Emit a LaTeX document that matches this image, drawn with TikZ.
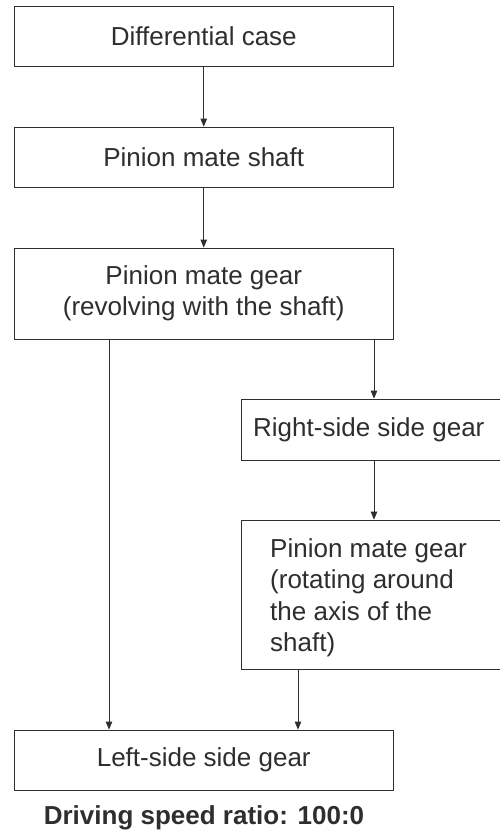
\documentclass[tikz,border=0pt]{standalone}
\usepackage{fontspec}
\setmainfont{Liberation Sans}
\usetikzlibrary{arrows.meta}
\definecolor{ink}{HTML}{2E2E2E}
\begin{document}
\begin{tikzpicture}[x=1pt,y=-1pt,
  box/.style={draw=ink,line width=0.8pt,rectangle,inner sep=0pt,text=ink,
    font=\fontsize{26}{31.5}\selectfont,align=center},
  arr/.style={draw=ink,line width=0.8pt,-{Triangle[length=8pt,width=6.5pt]}},
  lbl/.style={text=ink,font=\fontsize{26}{31.5}\selectfont,inner sep=0pt}]
\useasboundingbox (0,0) rectangle (499,830);
\fill[white] (0,0) rectangle (499,830);
\node[box,minimum width=378.5pt,minimum height=60pt] (b1) at (203.75,36) {Differential case};
\node[box,minimum width=378.5pt,minimum height=60pt] (b2) at (203.75,157) {Pinion mate shaft};
\node[box,minimum width=378.5pt,minimum height=91pt] (b3) at (203.75,293.5) {Pinion mate gear\\(revolving with the shaft)};
\node[box,minimum width=266pt,minimum height=61pt] (b4) at (374,429.5) {};
\node[lbl,anchor=west] (t4) at (253,430) {Right-side side gear};
\node[box,minimum width=266pt,minimum height=149pt] (b5) at (374,594.5) {};
\node[lbl,anchor=north west,align=left] (t5) at (270,538) {Pinion mate gear\\(rotating around\\the axis of the\\shaft)};
\node[box,minimum width=378.5pt,minimum height=60pt] (b6) at (203.75,760) {Left-side side gear};
\node[lbl,font=\fontsize{26}{31.5}\selectfont\bfseries] (cap) at (204,818) {Driving speed ratio: 100:0};
\draw[arr] (b1.south) -- (b2.north);
\draw[arr] (b2.south) -- (b3.north);
\draw[arr] (b3.south -| b4.north) -- (b4.north);
\draw[arr] (b4.south) -- (b5.north);
\draw[arr] ([xshift=-94.75pt]b3.south) -- ([xshift=-94.75pt]b6.north);
\draw[arr] ([xshift=-76pt]b5.south) -- ([xshift=-76pt]b5.south |- b6.north);
\end{tikzpicture}
\end{document}
